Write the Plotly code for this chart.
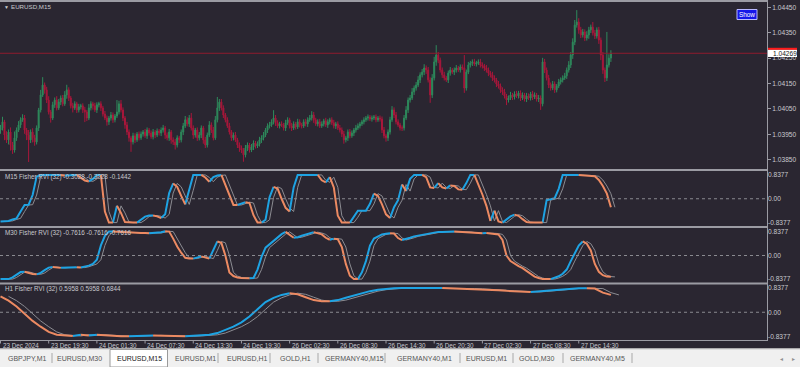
import plotly.graph_objects as go

W, H = 800, 367

# ---------------- data ----------------
PRICE_BASE = 1.03800          # closes / wicks are in points (0.00001) above this
POINT = 0.00001
FIRST_OPEN_PTS = 167
CLOSE_PTS = [
    175, 199, 147, 128, 159, 108, 88, 136, 167, 187,
    207, 214, 167, 147, 128, 159, 136, 120, 175, 246,
    305, 344, 325, 285, 238, 214, 266, 285, 254, 277,
    293, 270, 305, 325, 293, 262, 254, 270, 246, 258,
    262, 246, 238, 214, 254, 270, 262, 246, 266, 270,
    254, 230, 214, 199, 214, 226, 207, 222, 238, 270,
    246, 214, 187, 159, 136, 120, 144, 128, 151, 136,
    151, 159, 144, 167, 155, 140, 159, 147, 163, 155,
    167, 175, 147, 136, 159, 128, 120, 108, 136, 128,
    159, 183, 207, 191, 214, 175, 147, 167, 136, 147,
    175, 128, 108, 147, 187, 167, 136, 207, 254, 277,
    254, 226, 207, 183, 159, 136, 147, 128, 108, 96,
    88, 69, 96, 108, 88, 100, 116, 104, 112, 128,
    136, 147, 167, 183, 187, 199, 214, 195, 183, 191,
    187, 175, 195, 207, 183, 175, 191, 179, 199, 187,
    183, 199, 191, 207, 214, 226, 207, 191, 199, 183,
    191, 203, 187, 199, 207, 195, 183, 191, 175, 167,
    151, 128, 136, 159, 144, 155, 167, 175, 183, 191,
    199, 207, 214, 218, 210, 214, 218, 207, 214, 210,
    167, 144, 136, 159, 207, 246, 226, 199, 187, 175,
    175, 214, 246, 285, 293, 317, 332, 344, 364, 384,
    395, 411, 403, 364, 305, 372, 435, 462, 442, 403,
    384, 372, 364, 391, 403, 395, 403, 411, 403, 415,
    411, 332, 395, 423, 431, 435, 427, 431, 435, 423,
    419, 411, 403, 391, 384, 372, 364, 348, 340, 325,
    317, 301, 285, 293, 305, 297, 309, 301, 313, 293,
    305, 289, 301, 293, 309, 297, 305, 289, 293, 270,
    435, 403, 372, 344, 332, 348, 325, 340, 356, 364,
    372, 380, 403, 423, 462, 513, 580, 592, 561, 541,
    553, 529, 541, 561, 572, 549, 537, 561, 521, 462,
    403, 372, 423, 450, 469,
]
UPPER_WICK_PTS = [
    12, 20, 8, 15, 10, 18, 12, 25, 10, 15,
    10, 15, 12, 8, 20, 10, 15, 12, 10, 8,
    20, 31, 10, 12, 15, 8, 12, 10, 15, 12,
    10, 12, 15, 20, 10, 8, 12, 10, 8, 12,
    8, 10, 12, 8, 15, 10, 8, 12, 10, 8,
    10, 8, 12, 10, 8, 12, 10, 8, 47, 12,
    15, 10, 8, 12, 10, 8, 12, 10, 8, 10,
    10, 8, 12, 10, 8, 10, 12, 8, 10, 8,
    10, 12, 8, 10, 12, 8, 10, 12, 10, 8,
    10, 12, 15, 10, 12, 20, 10, 8, 10, 12,
    10, 8, 12, 10, 15, 10, 12, 15, 43, 12,
    12, 10, 8, 10, 12, 8, 10, 12, 8, 10,
    10, 8, 12, 10, 8, 12, 10, 8, 10, 12,
    10, 12, 8, 10, 12, 10, 31, 12, 10, 8,
    10, 8, 12, 10, 8, 12, 10, 8, 12, 10,
    8, 10, 12, 10, 12, 15, 12, 8, 10, 12,
    10, 8, 12, 10, 8, 10, 12, 8, 10, 12,
    10, 12, 8, 10, 12, 10, 8, 12, 10, 8,
    8, 10, 8, 10, 8, 10, 8, 10, 8, 10,
    10, 12, 8, 10, 12, 15, 10, 12, 10, 8,
    10, 12, 15, 10, 12, 15, 10, 12, 15, 10,
    12, 15, 10, 12, 10, 15, 20, 39, 12, 10,
    10, 12, 8, 10, 12, 8, 10, 12, 8, 10,
    10, 51, 10, 12, 8, 10, 12, 8, 10, 12,
    10, 8, 12, 10, 8, 12, 10, 8, 12, 10,
    10, 12, 8, 10, 12, 8, 10, 12, 8, 10,
    10, 8, 12, 10, 8, 12, 10, 8, 12, 10,
    16, 12, 10, 12, 10, 12, 10, 8, 12, 10,
    10, 12, 10, 15, 12, 15, 20, 47, 15, 12,
    12, 10, 15, 12, 10, 20, 12, 10, 12, 10,
    12, 10, 130, 15, 12,
]
LOWER_WICK_PTS = [
    15, 10, 20, 12, 18, 22, 15, 10, 12, 8,
    12, 8, 15, 20, 87, 12, 18, 15, 10, 12,
    10, 8, 15, 12, 10, 18, 8, 12, 10, 8,
    12, 10, 8, 15, 12, 10, 18, 8, 12, 10,
    10, 12, 40, 12, 8, 10, 15, 8, 12, 10,
    12, 10, 8, 15, 12, 10, 12, 10, 8, 10,
    10, 12, 15, 12, 15, 39, 10, 12, 8, 10,
    8, 10, 8, 12, 10, 8, 10, 12, 8, 10,
    12, 10, 15, 10, 12, 15, 12, 18, 10, 12,
    10, 12, 8, 10, 12, 10, 15, 10, 12, 10,
    12, 15, 12, 10, 8, 12, 10, 8, 10, 12,
    10, 12, 10, 8, 10, 12, 10, 8, 12, 15,
    12, 27, 10, 12, 10, 8, 12, 10, 8, 10,
    12, 10, 8, 12, 10, 8, 10, 12, 8, 10,
    8, 10, 12, 8, 10, 12, 8, 10, 8, 10,
    10, 8, 10, 12, 8, 10, 12, 8, 10, 8,
    8, 10, 8, 12, 10, 8, 10, 12, 8, 10,
    12, 15, 10, 12, 10, 8, 12, 10, 8, 10,
    8, 10, 8, 10, 8, 10, 8, 10, 8, 10,
    12, 10, 15, 12, 10, 8, 12, 10, 8, 10,
    12, 10, 8, 12, 10, 8, 12, 10, 8, 12,
    10, 12, 15, 10, 31, 12, 10, 15, 12, 10,
    12, 10, 8, 12, 10, 8, 12, 10, 8, 10,
    8, 19, 10, 8, 10, 12, 8, 10, 8, 10,
    10, 12, 10, 12, 10, 12, 10, 12, 10, 12,
    12, 10, 20, 10, 8, 12, 10, 8, 10, 12,
    8, 10, 12, 8, 10, 12, 8, 10, 12, 24,
    10, 12, 10, 12, 10, 8, 12, 10, 8, 10,
    10, 8, 12, 10, 12, 15, 12, 10, 15, 12,
    10, 12, 10, 15, 12, 10, 12, 10, 15, 20,
    15, 16, 12, 10, 15,
]

PRICE_TICKS = [1.0385, 1.0395, 1.0405, 1.0415, 1.0425, 1.0435, 1.0445]
PRICE_TICK_TEXT = ["1.03850", "1.03950", "1.04050", "1.04150", "1.04250", "1.04350", "1.04450"]

TIME_LABEL_BARS = [0, 24, 48, 72, 96, 120, 144, 168, 192, 216, 240, 264, 288]
TIME_LABELS = ["23 Dec 2024", "23 Dec 19:30", "24 Dec 01:30", "24 Dec 07:30", "24 Dec 13:30",
               "24 Dec 19:30", "26 Dec 02:30", "26 Dec 08:30", "26 Dec 14:30", "26 Dec 20:30",
               "27 Dec 02:30", "27 Dec 08:30", "27 Dec 14:30"]

# Fisher RVI values, sampled every STEP chart bars
M15_STEP = 2
M15_FISHER = [
    -0.80, -0.80, -0.78, -0.73, -0.69, -0.45, -0.22, -0.21, 0.13, 0.78,
    0.84, 0.84, 0.84, 0.84, 0.84, 0.84, 0.81, 0.83, 0.84, 0.84,
    0.75, 0.64, 0.61, 0.70, 0.84, 0.84, -0.45, -0.84, -0.84, -0.25,
    -0.50, -0.82, -0.84, -0.84, -0.84, -0.75, -0.63, -0.59, -0.59, -0.62,
    -0.68, -0.55, 0.20, 0.54, 0.42, 0.10, -0.20, 0.30, 0.84, 0.84,
    0.84, 0.75, 0.60, 0.76, 0.82, 0.84, 0.50, 0.10, -0.22, -0.22,
    -0.17, -0.12, -0.15, -0.58, -0.84, -0.84, -0.74, 0.05, 0.42, 0.36,
    0.00, -0.32, -0.45, 0.40, 0.84, 0.84, 0.84, 0.84, 0.84, 0.84,
    0.65, 0.58, 0.76, 0.40, -0.60, -0.84, -0.84, -0.84, -0.65, -0.42,
    -0.42, -0.42, -0.18, 0.18, 0.10, -0.20, -0.55, -0.68, -0.30, -0.05,
    0.50, 0.27, 0.70, 0.84, 0.84, 0.84, 0.76, 0.40, 0.38, 0.55,
    0.40, 0.36, 0.47, 0.45, 0.33, 0.32, 0.55, 0.84, 0.84, 0.50,
    0.15, -0.25, -0.78, -0.42, -0.80, -0.84, -0.74, -0.62, -0.56, -0.60,
    -0.72, -0.82, -0.84, -0.84, -0.84, -0.84, -0.05, -0.02, 0.02, 0.35,
    0.84, 0.84, 0.84, 0.84, 0.84, 0.83, 0.82, 0.81, 0.79, 0.66,
    0.45, 0.18, -0.30,
]
M30_STEP = 2
M30_FISHER = [
    -0.84, -0.84, -0.84, -0.78, -0.67, -0.59, -0.58, -0.63, -0.66, -0.67,
    -0.62, -0.52, -0.43, -0.41, -0.43, -0.44, -0.43, -0.43, -0.43, -0.42,
    -0.43, -0.40, -0.36, -0.30, -0.15, 0.36, 0.70, 0.85, 0.85, 0.84,
    0.84, 0.84, 0.83, 0.81, 0.80, 0.80, 0.80, 0.79, 0.80, 0.80,
    0.83, 0.86, 0.85, 0.60, 0.32, 0.10, -0.08, -0.11, -0.11, -0.07,
    -0.03, -0.07, -0.11, 0.18, 0.50, 0.45, 0.00, -0.60, -0.73, -0.78,
    -0.80, -0.80, -0.81, -0.80, -0.50, -0.05, 0.28, 0.40, 0.50, 0.63,
    0.76, 0.84, 0.75, 0.63, 0.65, 0.70, 0.74, 0.78, 0.83, 0.80,
    0.75, 0.63, 0.56, 0.60, 0.58, 0.30, -0.30, -0.72, -0.84, -0.84,
    -0.60, -0.20, 0.35, 0.60, 0.68, 0.75, 0.77, 0.79, 0.78, 0.62,
    0.55, 0.58, 0.63, 0.68, 0.71, 0.74, 0.77, 0.80, 0.82, 0.84,
    0.84, 0.84, 0.85, 0.85, 0.84, 0.84, 0.84, 0.82, 0.80, 0.79,
    0.79, 0.80, 0.79, 0.78, 0.75, 0.55, 0.00, -0.20, -0.30, -0.38,
    -0.45, -0.55, -0.65, -0.75, -0.80, -0.84, -0.84, -0.84, -0.80, -0.74,
    -0.65, -0.50, -0.20, 0.10, 0.35, 0.50, 0.42, 0.18, -0.30, -0.58,
    -0.70, -0.75, -0.76,
]
H1_STEP = 4
H1_FISHER = [
    0.55, 0.40, 0.20, -0.05, -0.30, -0.50, -0.68, -0.78, -0.80, -0.82,
    -0.78, -0.80, -0.78, -0.80, -0.82, -0.83, -0.83, -0.82, -0.80, -0.80,
    -0.81, -0.82, -0.83, -0.83, -0.82, -0.80, -0.78, -0.72, -0.62, -0.50,
    -0.35, -0.15, 0.10, 0.35, 0.50, 0.60, 0.66, 0.62, 0.52, 0.42,
    0.38, 0.38, 0.42, 0.50, 0.58, 0.66, 0.73, 0.78, 0.81, 0.83,
    0.84, 0.84, 0.84, 0.84, 0.84, 0.84, 0.83, 0.82, 0.82, 0.81,
    0.80, 0.78, 0.76, 0.74, 0.72, 0.71, 0.70, 0.72, 0.75, 0.77,
    0.80, 0.82, 0.83, 0.83, 0.82, 0.68, 0.60,
]
PANE_LABELS = ["M15 Fisher RVI (32) -0.3028 -0.3028 -0.1442",
               "M30 Fisher RVI (32) -0.7616 -0.7616 -0.7616",
               "H1 Fisher RVI (32) 0.5958 0.5958 0.6844"]
PANE_TICKS = [-0.8377, 0.0, 0.8377]
PANE_TICK_TEXT = ["-0.8377", "0.00", "0.8377"]

TABS = ["GBPJPY,M1", "EURUSD,M30", "EURUSD,M15", "EURUSD,M1", "EURUSD,H1", "GOLD,H1",
        "GERMANY40,M15", "GERMANY40,M1", "EURUSD,M1", "GOLD,M30", "GERMANY40,M5"]
ACTIVE_TAB = "EURUSD,M15"

# ---------------- style ----------------
BG = "#2a2631"
BORDER = "#9b9ba3"
TXT = "#c9c9cf"
GREEN = "#2e8a5c"
RED = "#a8173b"
BLUE = "#1ea3e3"
ORANGE = "#ec8a62"
SIG = "#8c8c92"
FONT = "Liberation Sans, Arial, sans-serif"


def py(p):
    return 1 - p / H


def pxx(p):
    return p / W


n = len(CLOSE_PTS)
opens_pts = [FIRST_OPEN_PTS] + CLOSE_PTS[:-1]
o = [PRICE_BASE + v * POINT for v in opens_pts]
c = [PRICE_BASE + v * POINT for v in CLOSE_PTS]
hi = [PRICE_BASE + (max(a, b) + u) * POINT for a, b, u in zip(opens_pts, CLOSE_PTS, UPPER_WICK_PTS)]
lo = [PRICE_BASE + (min(a, b) - d) * POINT for a, b, d in zip(opens_pts, CLOSE_PTS, LOWER_WICK_PTS)]
bars = list(range(n))

fig = go.Figure()
fig.add_trace(go.Candlestick(
    x=bars, open=o, high=hi, low=lo, close=c,
    increasing=dict(line=dict(color=GREEN, width=1), fillcolor=GREEN),
    decreasing=dict(line=dict(color=RED, width=1), fillcolor=RED),
    whiskerwidth=0, xaxis="x", yaxis="y", hoverinfo="skip", showlegend=False))


def add_fisher(vals, step, yaxis):
    xs = [i * step for i in range(len(vals))]
    # signal line = previous value of the indicator's own timeframe
    fig.add_trace(go.Scatter(x=[x + step for x in xs], y=vals, mode="lines",
                             line=dict(color=SIG, width=1), xaxis="x", yaxis=yaxis,
                             hoverinfo="skip", showlegend=False))
    runs = []
    prev = 1
    for i in range(len(vals) - 1):
        d = 1 if vals[i + 1] > vals[i] else (-1 if vals[i + 1] < vals[i] else prev)
        prev = d
        if runs and runs[-1][0] == d:
            runs[-1][1].append(i + 1)
        else:
            runs.append([d, [i, i + 1]])
    for d, col in ((1, BLUE), (-1, ORANGE)):
        X, Y = [], []
        for rd, idx in runs:
            if rd != d:
                continue
            X += [xs[k] for k in idx] + [None]
            Y += [vals[k] for k in idx] + [None]
        fig.add_trace(go.Scatter(x=X, y=Y, mode="lines", line=dict(color=col, width=2),
                                 xaxis="x", yaxis=yaxis, hoverinfo="skip", showlegend=False,
                                 connectgaps=False))


add_fisher(M15_FISHER, M15_STEP, "y2")
add_fisher(M30_FISHER, M30_STEP, "y3")
add_fisher(H1_FISHER, H1_STEP, "y4")

tickfont = dict(family=FONT, size=6.6, color=TXT)
pane_common = dict(range=[-0.96, 0.96], side="right", anchor="x", tickvals=PANE_TICKS,
                   ticktext=PANE_TICK_TEXT, ticks="", showgrid=False, zeroline=False,
                   showline=False, tickfont=tickfont, fixedrange=True, automargin=False)

fig.update_layout(
    width=W, height=H, margin=dict(l=0, r=0, t=0, b=0),
    paper_bgcolor=BG, plot_bgcolor=BG, template="none", showlegend=False,
    hovermode=False, font=dict(family=FONT, color=TXT),
    xaxis=dict(domain=[0, 767 / W], range=[-0.25, 381.75], showticklabels=False,
               showgrid=False, zeroline=False, showline=False, ticks="",
               rangeslider=dict(visible=False), fixedrange=True, automargin=False),
    yaxis=dict(domain=[py(169), py(2)], range=[1.038134, 1.044709], side="right", anchor="x",
               tickvals=PRICE_TICKS, ticktext=PRICE_TICK_TEXT, ticks="outside", ticklen=3,
               tickcolor=BORDER, tickfont=tickfont, showgrid=False, zeroline=False,
               showline=False, fixedrange=True, automargin=False),
    yaxis2=dict(domain=[py(226), py(171.5)], **pane_common),
    yaxis3=dict(domain=[py(282.5), py(228.5)], **pane_common),
    yaxis4=dict(domain=[py(340), py(284.5)], **pane_common),
)

shapes = []
# zero levels
for ya in ("y2", "y3", "y4"):
    shapes.append(dict(type="line", xref="x domain", x0=0, x1=1, yref=ya, y0=0, y1=0,
                       line=dict(color="#8a8a90", width=1, dash="dot")))
# current price line
last = c[-1]
shapes.append(dict(type="line", xref="x domain", x0=0, x1=1, yref="y", y0=last, y1=last,
                   line=dict(color="#8e1c2e", width=1)))
# frame lines
for yy, wd in ((1, 2), (170, 2), (227, 2), (283.5, 2), (340.5, 1)):
    shapes.append(dict(type="line", xref="paper", yref="paper", x0=0, x1=pxx(767.5),
                       y0=py(yy), y1=py(yy), line=dict(color=BORDER, width=wd)))
shapes.append(dict(type="line", xref="paper", yref="paper", x0=pxx(767.5), x1=pxx(767.5),
                   y0=py(0), y1=py(341), line=dict(color=BORDER, width=1)))
# time ticks
for b in TIME_LABEL_BARS:
    shapes.append(dict(type="line", xref="x", yref="paper", x0=b, x1=b, y0=py(340.5), y1=py(343.5),
                       line=dict(color=BORDER, width=1)))
# price label box (red top line + white box)
shapes.append(dict(type="rect", xref="paper", yref="paper", x0=pxx(768), x1=pxx(797),
                   y0=py(57), y1=py(49.5), fillcolor="white", line=dict(width=0)))
shapes.append(dict(type="rect", xref="paper", yref="paper", x0=pxx(768), x1=pxx(797),
                   y0=py(49.8), y1=py(47.8), fillcolor="#ff1a1a", line=dict(width=0)))
# Show button
shapes.append(dict(type="rect", xref="paper", yref="paper", x0=pxx(737), x1=pxx(757),
                   y0=py(19.5), y1=py(9.5), fillcolor="#1515e8",
                   line=dict(color="#b8b8ff", width=1)))
# tab bar
shapes.append(dict(type="rect", xref="paper", yref="paper", x0=0, x1=1, y0=0, y1=py(348.5),
                   fillcolor="#f0f0f0", line=dict(width=0)))
shapes.append(dict(type="line", xref="paper", yref="paper", x0=0, x1=1, y0=py(349), y1=py(349),
                   line=dict(color="#c8c8c8", width=1)))
shapes.append(dict(type="rect", xref="paper", yref="paper", x0=pxx(110), x1=pxx(167.5),
                   y0=0, y1=py(349.5), fillcolor="white", line=dict(color="#9a9a9a", width=1)))
for sx in (52, 218, 270, 318, 385, 460, 513, 563, 632):
    shapes.append(dict(type="line", xref="paper", yref="paper", x0=pxx(sx), x1=pxx(sx),
                       y0=py(363), y1=py(353), line=dict(color="#a8a8a8", width=1)))

ann = []
ann.append(dict(text="▼", x=pxx(2), y=py(7), xref="paper", yref="paper", xanchor="left",
                yanchor="middle", showarrow=False, font=dict(family=FONT, size=5, color=TXT)))
ann.append(dict(text="EURUSD,M15", x=pxx(9), y=py(7), xref="paper", yref="paper",
                xanchor="left", yanchor="middle", showarrow=False,
                font=dict(family=FONT, size=6.2, color=TXT)))
ann.append(dict(text="Show", x=pxx(747), y=py(14.5), xref="paper", yref="paper",
                xanchor="center", yanchor="middle", showarrow=False,
                font=dict(family=FONT, size=6.4, color="white")))
ann.append(dict(text=f"{last:.5f}", x=pxx(771), y=py(53.5), xref="paper", yref="paper",
                xanchor="left", yanchor="middle", showarrow=False,
                font=dict(family=FONT, size=6.6, color="#202020")))
for lbl, yy in zip(PANE_LABELS, (176.5, 233, 289)):
    ann.append(dict(text=lbl, x=pxx(3), y=py(yy), xref="paper", yref="paper",
                    xanchor="left", yanchor="middle", showarrow=False,
                    font=dict(family=FONT, size=6.3, color=TXT)))
for b, t in zip(TIME_LABEL_BARS, TIME_LABELS):
    ann.append(dict(text=t, x=b, y=py(345), xref="x", yref="paper", xanchor="left",
                    yanchor="middle", showarrow=False, xshift=0,
                    font=dict(family=FONT, size=6.3, color=TXT)))
tab_centers = [27, 79, 139, 195, 247, 295, 354, 424, 486, 537, 597]
for t, cx in zip(TABS, tab_centers):
    ann.append(dict(text=t, x=pxx(cx), y=py(358.5), xref="paper", yref="paper",
                    xanchor="center", yanchor="middle", showarrow=False,
                    font=dict(family=FONT, size=7,
                              color="#1a1a1a" if t == ACTIVE_TAB else "#555555")))
for t, cx in (("◂", 781), ("▸", 793)):
    ann.append(dict(text=t, x=pxx(cx), y=py(358.5), xref="paper", yref="paper",
                    xanchor="center", yanchor="middle", showarrow=False,
                    font=dict(family=FONT, size=6, color="#909090")))

fig.update_layout(shapes=shapes, annotations=ann)
fig.write_html("out.html", config={"displayModeBar": False},
               post_script="document.body.style.margin='0';document.body.style.overflow='hidden';")
